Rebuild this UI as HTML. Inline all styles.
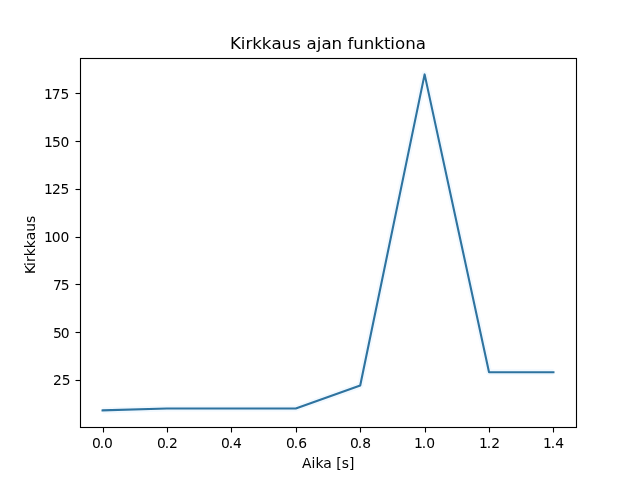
<!DOCTYPE html>
<html lang="fi">
<head>
<meta charset="utf-8">
<title>Kirkkaus ajan funktiona</title>
<style>
html,body{margin:0;padding:0;background:#fff;width:640px;height:480px;overflow:hidden}
svg{display:block}
text{font-family:"DejaVu Sans","Liberation Sans",sans-serif;fill:#000;font-size:13.889px}
.title{font-size:16.667px}
.ax{stroke:#000;stroke-width:1.111;fill:none;stroke-linecap:square}
.tk{stroke:#000;stroke-width:1.111;fill:none}
.halo{fill:none;stroke:#1f9fff;stroke-opacity:.06;stroke-width:6;stroke-linejoin:round}
.data{fill:none;stroke:#2e739f;stroke-width:2.083;stroke-linejoin:round;stroke-linecap:square}
</style>
</head>
<body>
<svg width="640" height="480" viewBox="0 0 640 480">
<rect x="0" y="0" width="640" height="480" fill="#ffffff"/>
<!-- tick marks -->
<g class="tk">
<path d="M103.5 427.5V432.5"/>
<path d="M167.5 427.5V432.5"/>
<path d="M231.5 427.5V432.5"/>
<path d="M296.5 427.5V432.5"/>
<path d="M360.5 427.5V432.5"/>
<path d="M425.5 427.5V432.5"/>
<path d="M489.5 427.5V432.5"/>
<path d="M553.5 427.5V432.5"/>
<path d="M80.5 380.5H75.5"/>
<path d="M80.5 332.5H75.5"/>
<path d="M80.5 284.5H75.5"/>
<path d="M80.5 237.5H75.5"/>
<path d="M80.5 189.5H75.5"/>
<path d="M80.5 141.5H75.5"/>
<path d="M80.5 93.5H75.5"/>
</g>
<!-- x tick labels -->
<text x="92 99.75 104" y="448">0.0</text>
<text x="157 164.75 169" y="448">0.2</text>
<text x="221 228.75 233" y="448">0.4</text>
<text x="286 293.75 298.25" y="448">0.6</text>
<text x="350 357.75 362.25" y="448">0.8</text>
<text x="414 421.75 426.25" y="448">1.0</text>
<text x="479 486.75 491.25" y="448">1.2</text>
<text x="543 550.75 555.25" y="448">1.4</text>
<text x="302 311.5 315.5 323.25 332 336.25 341.75 349" y="468">Aika [s]</text>
<!-- y tick labels -->
<text x="53 61.75" y="385">25</text>
<text x="53 60.75" y="338">50</text>
<text x="53 60.75" y="290">75</text>
<text x="44 51.75 60.5" y="242">100</text>
<text x="44 52 60.5" y="194">125</text>
<text x="44 52 60.5" y="147">150</text>
<text x="44 51.75 60.5" y="99">175</text>
<text transform="translate(35 245) rotate(-90)" x="-29 -21 -17 -11.25 -3.25 4.75 13.25 22" y="0">Kirkkaus</text>
<!-- data line -->
<defs><polyline id="curve" points="102.55,410.4 166.96,408.49 231.38,408.49 295.79,408.49 360.21,385.58 424.62,74.4 489.04,372.22 553.45,372.22"/></defs>
<use href="#curve" class="halo"/>
<use href="#curve" class="data"/>
<!-- axes frame -->
<rect class="ax" x="80.5" y="58.5" width="496.0" height="369.0"/>
<text class="title" x="230 240.75 245.5 252.25 261.75 271.5 281.5 292.25 301 306.5 316.75 321.5 331.5 342 347.5 353.25 363.75 374.25 384 390.25 395 405.25 415.75" y="49">Kirkkaus ajan funktiona</text>
</svg>
</body>
</html>
